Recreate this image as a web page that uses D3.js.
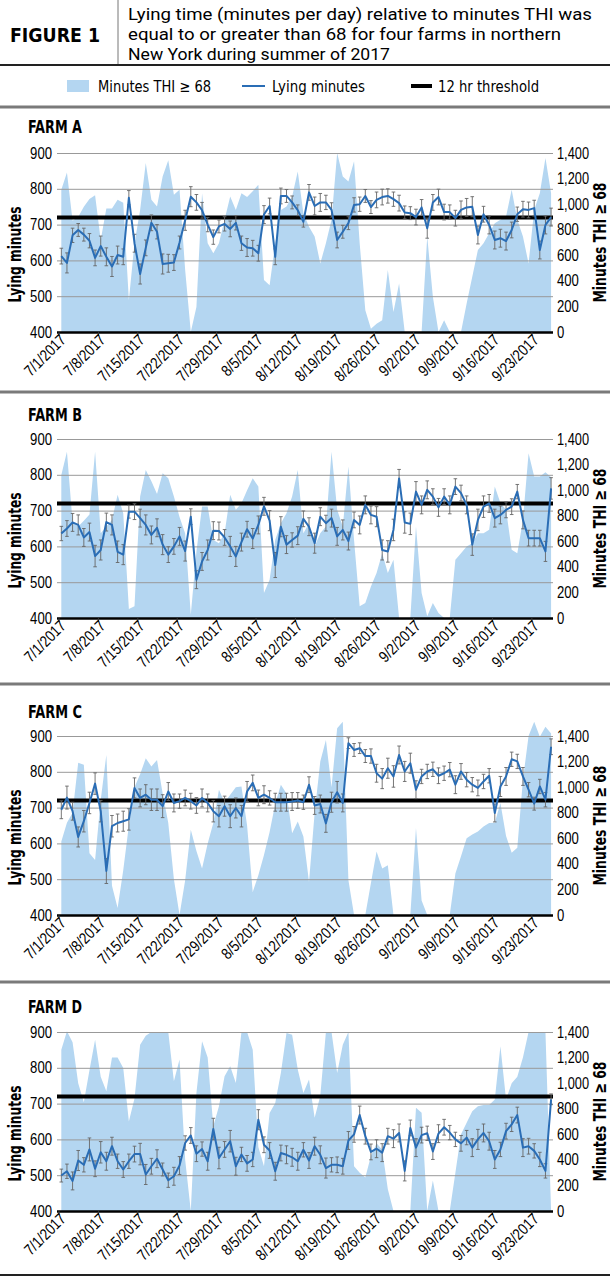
<!DOCTYPE html>
<html>
<head>
<meta charset="utf-8">
<script src="https://cdn.jsdelivr.net/npm/d3@7"></script>
<style>
  body { margin: 0; background: #fff; }
  svg { display: block; font-family: "Liberation Sans Narrow", "DejaVu Sans Condensed", "Arial Narrow", sans-serif; }
</style>
</head>
<body>
<script>
// tick labels every 7th day, data is daily 7/1 - 9/26
const tickLabels = ["7/1/2017", "7/8/2017", "7/15/2017", "7/22/2017", "7/29/2017", "8/5/2017", "8/12/2017",
                    "8/19/2017", "8/26/2017", "9/2/2017", "9/9/2017", "9/16/2017", "9/23/2017"];
const leftTicks = [400, 500, 600, 700, 800, 900];
const rightTicks = [0, 200, 400, 600, 800, 1000, 1200, 1400];
const threshold = 720;

// Farm A
const lyingA = [612,593,670,685,672,655,607,640,610,583, 615,610,775,648,562,635,705,680,590,592,
                594,650,712,778,762,740,700,665,695,702, 688,705,648,636,634,620,728,752,610,780,
                780,762,740,708,790,752,762,762,741,657, 680,704,755,757,780,749,769,777,780,771,
                760,734,732,721,748,690,762,777,735,735, 718,741,748,750,671,729,699,657,662,654,
                685,729,743,741,746,629,699,721];
const errA = [22,28,20,18,18,20,22,28,25,28, 25,22,20,25,28,22,22,20,28,25, 22,18,28,28,22,22,20,20,18,20,
              22,20,20,25,22,22,25,22,22,22, 18,18,15,15,22,25,25,20,20,22, 18,18,20,20,18,18,22,22,20,20,
              22,18,18,22,22,28,22,22,22,20, 22,25,25,28,25,22,25,25,25,25, 22,20,22,22,22,25,25,25];
const thiA = [1112,1248,870,900,980,1040,1070,720,965,965, 1035,1010,249,694,955,1322,1034,981,1217,1343,
              1073,1112,484,0,196,1086,694,615,694,877, 1060,955,1086,1055,1100,1151,406,366,694,955,
              981,1060,1256,929,824,746,536,694,877,1400, 1217,1178,1335,694,170,26,65,92,484,157,
              380,0,0,0,0,746,275,0,92,0, 0,0,222,432,641,694,772,850,877,903,
              1112,877,746,536,955,1086,1360,1086];

// Farm B
const lyingB = [636,650,667,660,625,640,573,590,668,660, 585,577,697,697,679,660,632,652,605,577,
                600,628,587,683,507,558,590,644,643,625, 600,572,612,648,622,660,712,672,548,655,
                605,618,630,677,655,609,683,665,679,628, 646,615,674,660,716,688,683,590,586,646,
                790,667,663,753,716,758,739,709,739,716, 767,749,716,605,674,711,720,679,688,702,
                711,753,674,623,623,623,586,762];
const errB = [20,22,25,28,25,25,30,28,25,28, 30,28,18,22,25,28,25,25,28,22, 22,25,28,22,25,25,28,25,25,22,
              28,28,25,22,28,25,25,28,35,28, 25,20,25,22,25,28,25,22,25,25, 28,25,22,25,25,25,28,28,30,30,
              25,30,30,28,25,25,22,25,22,25, 22,22,25,30,30,30,25,25,25,22, 22,20,25,22,22,22,28,30];
const thiB = [1119,1300,750,716,760,810,1300,663,716,767, 963,820,70,91,950,1158,1070,970,1132,1093,
              950,790,660,26,520,872,872,610,585,663, 963,846,898,1000,1093,1028,195,299,611,742,
              820,950,1158,663,742,560,663,716,1300,846, 716,1184,611,91,117,247,351,507,351,455,
              0,0,0,716,195,13,117,39,0,0, 455,507,560,585,663,663,690,1028,900,846,
              533,507,767,1288,1106,1106,1140,1100];

// Farm C
const lyingC = [694,728,690,618,662,713,767,690,523,648, 657,662,667,755,727,736,722,722,704,745,
                713,718,727,718,706,727,713,690,676,704, 676,699,676,745,769,727,736,727,715,715,
                715,717,720,715,764,706,710,656,715,743, 713,880,861,866,844,844,796,781,810,787,
                847,801,824,750,787,801,807,789,796,806, 764,801,778,764,755,773,789,685,759,787,
                835,829,787,750,711,759,722,870];
const errC = [25,32,25,28,30,30,30,30,35,30, 25,28,30,28,25,28,30,30,32,25, 25,20,22,22,22,25,25,30,30,28,
              32,28,30,28,22,22,25,20,25,25, 25,25,22,20,22,25,25,25,28,30, 25,15,18,15,18,20,25,28,28,30,
              25,28,28,25,20,20,20,22,20,20, 25,22,20,20,22,20,20,25,28,25, 20,20,25,20,18,20,20,22];
const thiC = [574,721,800,1190,1175,482,430,900,1252,228, 55,350,700,1000,1100,1226,1162,1213,950,720,
              280,0,271,667,500,363,560,720,980,880, 941,1000,1006,700,180,311,470,650,870,1019,
              950,640,732,613,258,800,1200,1369,1000,1460, 1512,271,0,0,0,250,496,363,390,0,
              0,0,0,680,114,0,0,0,0,0, 324,460,600,630,654,693,720,721,876,617,
              487,526,1058,1400,1512,1395,1473,1420];

// Farm D
const lyingD = [499,511,484,541,529,572,518,564,539,581, 539,516,539,559,559,502,525,546,516,486,
                497,527,590,611,560,573,539,629,548,572, 595,525,558,533,544,655,585,569,511,562,
                557,550,539,571,541,581,557,520,529,529, 525,597,614,668,609,565,574,563,609,602,
                618,512,632,577,612,617,566,616,634,619, 600,589,605,577,600,618,595,544,572,623,
                642,668,577,581,568,544,512,712];
const errD = [18,20,25,28,20,32,22,30,25,25, 20,22,20,22,30,28,22,25,18,20, 25,25,20,22,22,20,25,30,30,22,
              30,25,20,22,20,28,22,22,25,22, 25,25,25,20,22,25,25,28,20,22, 22,25,22,25,22,22,25,25,22,25,
              25,28,22,25,22,20,22,25,22,20, 20,22,20,25,28,25,25,25,20,22, 20,22,25,22,20,20,20,15];
const thiD = [1262,1406,1320,1000,850,1100,1340,1050,936,1200, 1200,1119,700,880,1300,1370,1400,1400,1400,1400,
              1015,1184,400,0,923,1327,1200,663,819,1054, 1132,1002,1400,1400,1262,500,350,767,845,1080,
              1393,1379,1106,923,1028,730,900,1400,1400,1080, 1300,1400,350,300,262,430,530,480,171,0,
              0,0,0,807,768,0,238,0,0,0, 300,600,690,780,820,830,830,872,1288,872,
              1000,1050,1200,1400,1400,1400,1400,0];

const width = 610;
const height = 1281;
const plotH = 179;
const left = 57, right = 553;
const areaColor = "#b4d6f1";
const lineColor = "#2a6db5";

// narrow look: squeeze numbers to the widths seen in the figure
function numWidth(s) {
    let w = 0;
    for (const c of s) w += /\d/.test(c) ? 7.3 : (c == "," ? 2.8 : 3.8);
    return w;
}
function squeeze(sel) {
    sel.attr("textLength", function() { return numWidth(this.textContent); })
       .attr("lengthAdjust", "spacingAndGlyphs");
}

const svg = d3.select("body")
              .append("svg")
              .attr("width", width)
              .attr("height", height);

// ----- header -----
svg.append("text")
   .attr("x", 10).attr("y", 42)
   .attr("font-size", 20).attr("font-weight", "bold")
   .attr("textLength", 90).attr("lengthAdjust", "spacingAndGlyphs")
   .text("FIGURE 1");
svg.append("line").attr("x1", 118).attr("x2", 118).attr("y1", 0).attr("y2", 65)
   .attr("stroke", "#777").attr("stroke-width", 1);

const titleLines = [
  ["Lying time (minutes per day) relative to minutes THI was", 464],
  ["equal to or greater than 68 for four farms in northern", 433],
  ["New York during summer of 2017", 262]
];
titleLines.forEach((t, i) => {
  svg.append("text")
     .attr("x", 128).attr("y", 20 + i * 20)
     .attr("font-family", "Roboto, sans-serif")
     .attr("font-size", 17)
     .attr("textLength", t[1]).attr("lengthAdjust", "spacingAndGlyphs")
     .text(t[0]);
});
svg.append("line").attr("x1", 0).attr("x2", width).attr("y1", 65).attr("y2", 65)
   .attr("stroke", "#222").attr("stroke-width", 2);

// legend
svg.append("rect").attr("x", 67).attr("y", 80).attr("width", 22).attr("height", 12).attr("fill", areaColor);
svg.append("text").attr("x", 98).attr("y", 92).attr("font-size", 16)
   .attr("textLength", 113).attr("lengthAdjust", "spacingAndGlyphs").text("Minutes THI \u2265 68");
svg.append("line").attr("x1", 242).attr("x2", 265).attr("y1", 86).attr("y2", 86)
   .attr("stroke", lineColor).attr("stroke-width", 2);
svg.append("text").attr("x", 272).attr("y", 92).attr("font-size", 16)
   .attr("textLength", 93).attr("lengthAdjust", "spacingAndGlyphs").text("Lying minutes");
svg.append("line").attr("x1", 411).attr("x2", 432).attr("y1", 86).attr("y2", 86)
   .attr("stroke", "#000").attr("stroke-width", 4);
svg.append("text").attr("x", 438).attr("y", 92).attr("font-size", 16)
   .attr("textLength", 101).attr("lengthAdjust", "spacingAndGlyphs").text("12 hr threshold");

// ----- panels -----
const panels = [
  {name: "FARM A", lying: lyingA, err: errA, thi: thiA, sep: 107, titleY: 133, top: 153},
  {name: "FARM B", lying: lyingB, err: errB, thi: thiB, sep: 392, titleY: 421, top: 439},
  {name: "FARM C", lying: lyingC, err: errC, thi: thiC, sep: 684, titleY: 718, top: 736},
  {name: "FARM D", lying: lyingD, err: errD, thi: thiD, sep: 982, titleY: 1013, top: 1032}
];

const nDays = lyingA.length;
const xScale = d3.scaleLinear().domain([0, nDays]).range([58.5, 553.9]);
const cx = (i) => xScale(i + 0.5);

panels.forEach(p => {
  const bottom = p.top + plotH;
  const yLeft = d3.scaleLinear().domain([400, 900]).range([bottom, p.top]);
  const yRight = d3.scaleLinear().domain([0, 1400]).range([bottom, p.top]);

  svg.append("line").attr("x1", 0).attr("x2", width).attr("y1", p.sep).attr("y2", p.sep)
     .attr("stroke", "#7a7a7a").attr("stroke-width", 3);

  svg.append("text")
     .attr("x", 28).attr("y", p.titleY)
     .attr("font-size", 17).attr("font-weight", "bold")
     .attr("textLength", 54).attr("lengthAdjust", "spacingAndGlyphs")
     .text(p.name);

  // THI area
  const area = d3.area()
                 .x((d, i) => cx(i))
                 .y0(bottom)
                 .y1(d => yRight(d));
  svg.append("path").datum(p.thi).attr("d", area).attr("fill", areaColor);

  // left axis + gridlines
  const gLeft = svg.append("g")
     .attr("transform", "translate(" + left + ",0)")
     .call(d3.axisLeft(yLeft).tickValues(leftTicks).tickSize(-(right - left)).tickPadding(5));
  gLeft.select(".domain").remove();
  gLeft.selectAll("line").attr("stroke", d => d == 400 ? "#000" : "#999")
       .attr("stroke-width", d => d == 400 ? 2.5 : 1);
  gLeft.selectAll("text").attr("font-size", 16).attr("fill", "#000")
       .attr("font-family", null).call(squeeze);

  // right axis
  const gRight = svg.append("g")
     .attr("transform", "translate(" + right + ",0)")
     .call(d3.axisRight(yRight).tickValues(rightTicks).tickSize(0).tickPadding(4).tickFormat(d3.format(",")));
  gRight.select(".domain").remove();
  gRight.selectAll("text").attr("font-size", 16).attr("fill", "#000")
        .attr("font-family", null).call(squeeze);

  // date axis
  const gBottom = svg.append("g")
     .attr("transform", "translate(0," + bottom + ")")
     .call(d3.axisBottom(xScale).tickValues(d3.range(0, nDays, 7)).tickSize(4)
             .tickFormat((d, i) => tickLabels[i]));
  gBottom.select(".domain").remove();
  gBottom.selectAll("line").attr("stroke", "#333");
  gBottom.selectAll("text")
     .attr("font-size", 16).attr("fill", "#000").attr("font-family", null)
     .attr("text-anchor", "end")
     .attr("transform", "translate(4,5) rotate(-45)")
     .attr("dy", "0.35em")
     .attr("y", 0).attr("x", 0)
     .call(squeeze);

  // threshold
  svg.append("line")
     .attr("x1", left).attr("x2", right)
     .attr("y1", yLeft(threshold)).attr("y2", yLeft(threshold))
     .attr("stroke", "#000").attr("stroke-width", 4);

  // error bars
  const eb = svg.append("g").attr("stroke", "#666").attr("stroke-width", 0.9);
  p.lying.forEach((v, i) => {
    const e = p.err[i];
    eb.append("line").attr("x1", cx(i)).attr("x2", cx(i))
      .attr("y1", yLeft(v - e)).attr("y2", yLeft(v + e));
    [v - e, v + e].forEach(w => {
      eb.append("line").attr("x1", cx(i) - 1.8).attr("x2", cx(i) + 1.8)
        .attr("y1", yLeft(w)).attr("y2", yLeft(w));
    });
  });

  // lying line
  const line = d3.line().x((d, i) => cx(i)).y(d => yLeft(d));
  svg.append("path").datum(p.lying).attr("d", line)
     .attr("fill", "none").attr("stroke", lineColor).attr("stroke-width", 2)
     .attr("stroke-linejoin", "round");

  // axis titles
  const midY = (p.top + bottom) / 2;
  svg.append("text")
     .attr("transform", "translate(21," + (midY + 12) + ") rotate(-90)")
     .attr("text-anchor", "middle").attr("font-size", 18).attr("font-weight", "bold")
     .attr("textLength", 96).attr("lengthAdjust", "spacingAndGlyphs")
     .text("Lying minutes");
  svg.append("text")
     .attr("transform", "translate(606," + midY + ") rotate(-90)")
     .attr("text-anchor", "middle").attr("font-size", 18).attr("font-weight", "bold")
     .attr("textLength", 120).attr("lengthAdjust", "spacingAndGlyphs")
     .text("Minutes THI \u2265 68");
});

svg.append("line").attr("x1", 0).attr("x2", width).attr("y1", 1275).attr("y2", 1275)
   .attr("stroke", "#222").attr("stroke-width", 2);
</script>
</body>
</html>
